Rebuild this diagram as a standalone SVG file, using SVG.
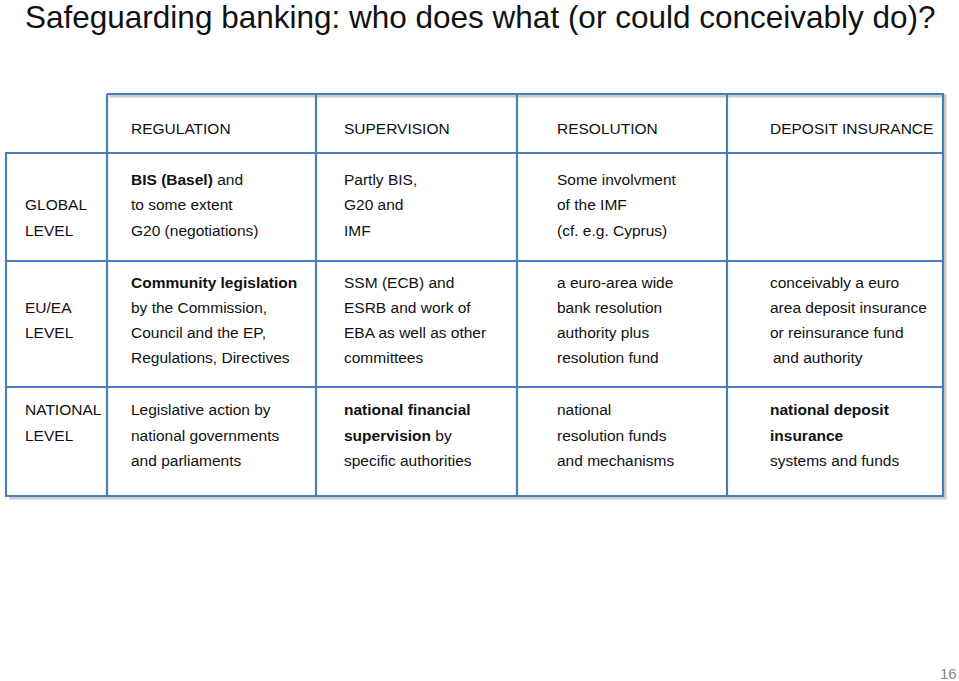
<svg xmlns="http://www.w3.org/2000/svg" width="959" height="681" viewBox="0 0 959 681">
<style>
text{font-family:"Liberation Sans",Arial,sans-serif;font-size:15.5px;fill:#111}
.b{font-weight:bold}
.g{fill:none;stroke:#4a7ebb;stroke-width:2.2}
.s{fill:none;stroke:#ccc;stroke-width:3}
</style>
<rect width="959" height="681" fill="#fff"/>
<text x="25" y="28" style="font-size:31.5px">Safeguarding banking: who does what (or could conceivably do)?</text>
<g id="shadow">
<path class="s" d="M109 96H945V498H9M945 155V498"/>
</g>
<g id="grid">
<path class="g" d="M107 94H943V496H6V153H943M6 261H943M6 387H943M107 94V496M316 94V496M517 94V496M727 94V496M943 94V496"/>
</g>
<g id="header">
<text x="131" y="134">REGULATION</text>
<text x="344" y="134">SUPERVISION</text>
<text x="557" y="134">RESOLUTION</text>
<text x="770" y="134">DEPOSIT INSURANCE</text>
</g>
<g id="global">
<text x="25" y="210">GLOBAL</text><text x="25" y="236">LEVEL</text>
<text x="131" y="185"><tspan class="b">BIS (Basel)</tspan> and</text>
<text x="131" y="210">to some extent</text>
<text x="131" y="236">G20 (negotiations)</text>
<text x="344" y="185">Partly BIS,</text>
<text x="344" y="210">G20 and</text>
<text x="344" y="236">IMF</text>
<text x="557" y="185">Some involvment</text>
<text x="557" y="210">of the IMF</text>
<text x="557" y="236">(cf. e.g. Cyprus)</text>
</g>
<g id="eu">
<text x="25" y="313">EU/EA</text><text x="25" y="338">LEVEL</text>
<text x="131" y="288" class="b">Community legislation</text>
<text x="131" y="313">by the Commission,</text>
<text x="131" y="338">Council and the EP,</text>
<text x="131" y="363">Regulations, Directives</text>
<text x="344" y="288">SSM (ECB) and</text>
<text x="344" y="313">ESRB and work of</text>
<text x="344" y="338">EBA as well as other</text>
<text x="344" y="363">committees</text>
<text x="557" y="288">a euro-area wide</text>
<text x="557" y="313">bank resolution</text>
<text x="557" y="338">authority plus</text>
<text x="557" y="363">resolution fund</text>
<text x="770" y="288">conceivably a euro</text>
<text x="770" y="313">area deposit insurance</text>
<text x="770" y="338">or reinsurance fund</text>
<text x="773" y="363">and authority</text>
</g>
<g id="national">
<text x="25" y="415">NATIONAL</text><text x="25" y="441">LEVEL</text>
<text x="131" y="415">Legislative action by</text>
<text x="131" y="441">national governments</text>
<text x="131" y="466">and parliaments</text>
<text x="344" y="415" class="b">national financial</text>
<text x="344" y="441"><tspan class="b">supervision</tspan> by</text>
<text x="344" y="466">specific authorities</text>
<text x="557" y="415">national</text>
<text x="557" y="441">resolution funds</text>
<text x="557" y="466">and mechanisms</text>
<text x="770" y="415" class="b">national deposit</text>
<text x="770" y="441" class="b">insurance</text>
<text x="770" y="466">systems and funds</text>
</g>
<text x="940" y="679" style="font-size:15px;fill:#888">16</text>
</svg>
